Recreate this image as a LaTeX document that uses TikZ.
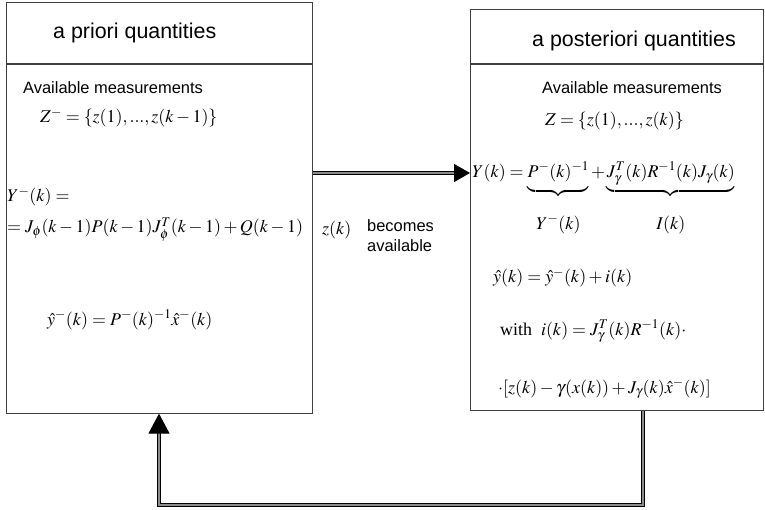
\documentclass[tikz,border=0pt]{standalone}
\usepackage{mathptmx}
\usepackage[no-math]{fontspec}
\setmainfont{Liberation Serif}
\setsansfont{Liberation Sans}
\usetikzlibrary{arrows.meta,positioning,calc}

\begin{document}
\begin{tikzpicture}[
      x=1bp, y=-1bp,
      box/.style={draw=black!75,line width=0.8bp,inner sep=0pt,anchor=north west},
      head/.style={font=\fontsize{21.5}{25}\selectfont\sffamily,anchor=base west,inner sep=0pt},
      lbl/.style={font=\fontsize{16.5}{20}\selectfont\sffamily,anchor=base west,inner sep=0pt,align=left},
      eq/.style={font=\fontsize{18}{22}\selectfont,anchor=base west,inner sep=0pt},
      dbl/.style={draw=black,line width=1.1bp,double=black!45,double distance=1.6bp},
    ]
    \useasboundingbox (0,0) rectangle (765,510);

    % a priori box
    \node[box,minimum width=306bp,minimum height=61bp] (priorhead) at (6,2) {};
    \node[box,minimum width=306bp,minimum height=349bp,below=0pt of priorhead] (priorbody) {};
    \node[head] (priortitle) at (53,39) {a priori quantities};
    \node[lbl] (priormeas) at (23,94) {Available measurements};
    \node[eq] (priorZ) at (40,123) {$Z^{-}=\{z(1),...,z(k-1)\}$};
    \node[eq] (priorY) at (7,202) {$Y^{-}(k)=$};
    \node[eq] (priorYexp) at (7,233) {$=J_{\phi}(k-1)P(k-1)J_{\phi}^{T}(k-1)+Q(k-1)$};
    \node[eq] (priory) at (47,325) {$\hat{y}^{-}(k)=P^{-}(k)^{-1}\hat{x}^{-}(k)$};

    % a posteriori box
    \node[box,minimum width=293bp,minimum height=54bp] (posthead) at (470,9) {};
    \node[box,minimum width=293bp,minimum height=346bp,below=0pt of posthead] (postbody) {};
    \node[head] (posttitle) at (532,47) {a posteriori quantities};
    \node[lbl] (postmeas) at (542,94) {Available measurements};
    \node[eq] (postZ) at (545,126) {$Z=\{z(1),...,z(k)\}$};
    \node[eq] (postY) at (472,178) {$Y(k)=\underbrace{P^{-}(k)^{-1}\rule[-9bp]{0pt}{0pt}}_{\rule{0pt}{31bp}\textstyle Y^{-}(k)}
      +\underbrace{J_{\gamma}^{T}(k)R^{-1}(k)J_{\gamma}(k)\rule[-9bp]{0pt}{0pt}}_{\rule{0pt}{31bp}\textstyle I(k)}$};
    \node[eq] (posty) at (493,283) {$\hat{y}(k)=\hat{y}^{-}(k)+i(k)$};
    \node[eq] (posti) at (500,335) {with\ \ $i(k)=J_{\gamma}^{T}(k)R^{-1}(k)\cdot$};
    \node[eq] (postcorr) at (498,393) {$\cdot[z(k)-\gamma(x(k))+J_{\gamma}(k)\hat{x}^{-}(k)]$};

    % new measurement
    \node[eq] (zk) at (322,235) {$z(k)$};
    \node[lbl,anchor=west] (avail) at (367,236) {becomes\\available};

    % arrows
    \coordinate (zin) at (0,173);
    \coordinate (fbr) at (643,0);
    \coordinate (fbl) at (159,0);
    \coordinate (fbb) at (0,505);
    \draw[dbl,-{Triangle[length=16bp,width=18bp]}] (priorbody.east |- zin) -- (postbody.west |- zin);
    \draw[dbl,-{Triangle[length=20bp,width=21bp]}] (postbody.south -| fbr) -- (fbr |- fbb)
      -- (fbl |- fbb) -- (priorbody.south -| fbl);
  \end{tikzpicture}
\end{document}
